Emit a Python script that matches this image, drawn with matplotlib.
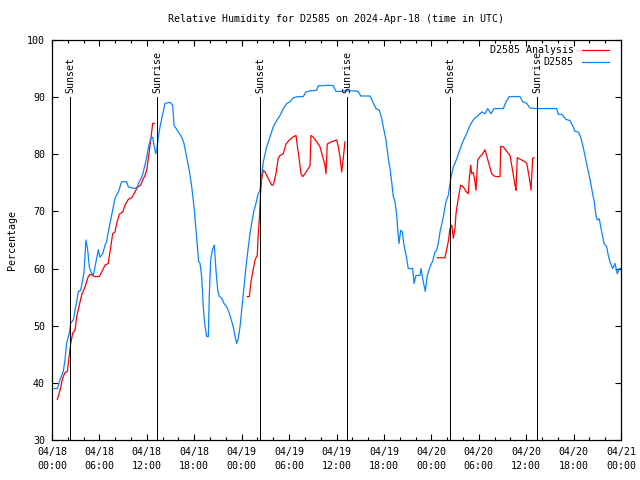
import matplotlib
matplotlib.use("Agg")
import matplotlib.pyplot as plt
import numpy as np

# ---------------- data (hours since 2024-04-18 00:00 UTC) ----------------
station_hours = [0.25, 0.67, 1.01, 1.43, 1.64, 1.86, 2.19, 2.37, 2.70, 2.91, 3.13, 3.33, 3.63, 3.88,
                 4.05, 4.30, 4.52, 4.72, 4.93, 5.23, 5.53, 5.86, 6.07, 6.42, 6.71, 6.92, 7.12, 7.34,
                 7.55, 7.76, 7.97, 8.39, 8.82, 9.45, 9.65, 10.50, 10.79, 11.05, 11.35, 11.55, 11.86,
                 12.06, 12.27, 12.49, 12.74, 12.91, 13.12, 13.25, 13.45, 13.67, 13.92, 14.30, 14.93,
                 15.27, 15.44, 15.98, 16.41, 16.70, 17.04, 17.37, 17.68, 17.97, 18.22, 18.39, 18.56,
                 18.73, 18.94, 19.14, 19.32, 19.57, 19.78, 19.90, 20.08, 20.28, 20.54, 20.75, 20.97,
                 21.17, 21.47, 21.76, 22.11, 22.43, 22.74, 22.94, 23.16, 23.37, 23.57, 23.79, 24.00,
                 24.21, 24.42, 24.64, 24.84, 25.05, 25.34, 25.56, 25.81, 26.03, 26.32, 26.53, 26.74,
                 27.17, 27.58, 28.00, 28.43, 28.85, 29.27, 29.70, 30.12, 30.53, 31.17, 31.80, 32.14,
                 32.65, 33.49, 33.70, 34.33, 34.96, 35.59, 35.94, 36.44, 37.07, 38.12, 38.76, 39.06,
                 40.24, 40.58, 41.00, 41.42, 41.72, 41.92, 42.26, 42.55, 42.77, 42.98, 43.19, 43.40,
                 43.62, 43.74, 43.91, 44.12, 44.33, 44.54, 44.88, 45.08, 45.64, 45.81, 46.06, 46.56,
                 46.69, 46.98, 47.24, 47.49, 47.83, 48.17, 48.46, 48.68, 48.88, 49.10, 49.51, 49.85,
                 50.14, 50.45, 50.78, 51.21, 51.63, 52.04, 52.47, 52.89, 53.40, 53.94, 54.37, 54.79,
                 55.13, 55.55, 55.93, 57.11, 57.45, 57.87, 59.22, 59.56, 60.07, 60.48, 61.33, 63.86,
                 64.07, 64.50, 65.04, 65.55, 65.96, 66.18, 66.60, 66.90, 67.15, 67.44, 67.73, 68.07,
                 68.37, 68.62, 68.83, 69.00, 69.25, 69.56, 69.85, 70.19, 70.39, 70.61, 70.95, 71.24,
                 71.53, 71.79, 71.97]
station_rh = [39.0, 39.0, 40.5, 42.0, 44.0, 47.0, 48.7, 50.5, 51.0, 52.7, 54.2, 56.0, 56.2, 58.0,
              59.4, 65.0, 63.2, 60.3, 59.4, 58.8, 60.9, 63.3, 62.0, 62.6, 64.1, 64.7, 66.4, 67.9,
              69.3, 70.8, 72.3, 73.4, 75.2, 75.2, 74.3, 74.0, 74.3, 75.2, 76.0, 76.9, 78.7,
              80.1, 81.6, 82.8, 83.0, 81.6, 80.1, 80.7, 83.0, 84.8, 86.5, 88.9, 89.1,
              88.6, 85.1, 83.9, 83.0, 81.9, 79.5, 77.2, 74.3, 70.8, 66.7, 63.8, 61.2,
              60.9, 58.6, 53.3, 50.4, 48.1, 48.1, 55.1, 61.5, 63.2, 64.1, 59.7, 56.2,
              55.1, 54.8, 53.9, 53.3, 52.2, 50.7, 49.8, 48.1, 46.9, 47.8, 49.8, 52.7,
              55.6, 58.6, 61.5, 63.8, 66.1, 68.5, 70.2, 71.4, 72.8, 73.7, 76.3, 78.7,
              81.3, 83.0, 84.8, 85.9, 86.8, 88.0, 88.9, 89.2, 89.9, 90.1, 90.1, 90.9,
              91.1, 91.2, 92.0, 92.0, 92.1, 92.0, 91.0, 91.0, 91.1, 91.1, 91.0, 90.2,
              90.2, 89.2, 88.0, 87.7, 86.3, 84.8, 82.5, 79.3, 77.5, 75.2, 72.6, 71.7,
              69.3, 67.0, 64.4, 66.7, 66.4, 64.1, 61.8, 60.0, 60.0, 57.4, 58.8, 58.8,
              60.0, 57.7, 56.0, 58.8, 60.3, 61.3, 62.9, 63.2, 64.4, 66.4, 69.0, 71.7,
              72.8, 75.7, 77.8, 79.2, 80.9, 82.4, 83.6, 85.1, 86.2, 86.8, 87.4, 87.1,
              88.0, 87.1, 88.0, 88.0, 89.2, 90.1, 90.1, 89.2, 88.9, 88.1, 88.0, 88.0,
              87.0, 87.0, 86.1, 85.9, 84.8, 84.0, 83.9, 83.0, 81.6, 79.8, 77.8, 75.7,
              73.4, 71.7, 69.3, 68.5, 68.7, 66.4, 64.4, 63.8, 62.3, 61.2, 60.0, 60.9,
              59.1, 60.0, 60.0]

analysis_hours = [0.67, 1.01, 1.35, 1.64, 1.94, 2.19, 2.37, 2.62, 2.91, 3.13, 3.45, 3.76, 4.18,
                  4.59, 4.81, 5.44, 5.99, 6.29, 6.71, 7.12, 7.34, 7.68, 7.97, 8.19, 8.52, 8.95,
                  9.24, 9.65, 10.08, 10.50, 10.79, 11.22, 11.48, 11.77, 11.98, 12.24, 12.49, 12.74,
                  12.94, np.nan,
                  24.71, 24.97, 25.18, 25.40, 25.69, 25.98, 26.10, 26.23, 26.41, 26.53, 26.74,
                  26.95, 27.24, 27.80, 28.00, 28.34, 28.63, 28.85, 29.27, 29.61, 30.03, 30.46,
                  30.87, 31.04, 31.29, 31.51, 31.72, 32.01, 32.43, 32.65, 32.77, 33.06, 33.49,
                  33.91, 34.25, 34.54, 34.67, 34.83, 35.39, 36.02, 36.23, 36.44, 36.66, 36.86,
                  37.07, np.nan,
                  48.75, 49.73, 50.14, 50.36, 50.58, 50.78, 50.99, 51.12, 51.41, 51.71, 52.04,
                  52.39, 52.68, 52.80, 52.98, 53.11, 53.31, 53.52, 53.65, 53.87, 54.16, 54.50,
                  54.79, 55.21, 55.64, 55.93, 56.27, 56.69, 56.78, 57.11, 57.61, 57.95, 58.17,
                  58.37, 58.59, 58.71, 58.87, 59.43, 59.85, 60.07, 60.27, 60.48, 60.61, 60.82,
                  60.99]
analysis_rh = [37.1, 38.7, 40.8, 41.8, 42.0, 44.9, 46.9, 48.7, 49.2, 51.6, 53.6, 55.4, 56.8,
               58.6, 59.0, 58.6, 58.6, 59.4, 60.6, 60.9, 62.9, 66.1, 66.4, 67.9, 69.5, 69.9,
               71.1, 72.1, 72.4, 73.4, 74.2, 74.6, 75.5, 76.3, 77.2, 79.8, 82.5, 85.4,
               85.4, np.nan,
               55.1, 55.1, 57.7, 59.4, 61.5, 62.4, 66.1, 68.5, 73.7, 75.7, 77.2,
               76.9, 76.1, 74.6, 74.6, 76.6, 79.3, 79.8, 80.1, 81.8, 82.5, 83.0,
               83.3, 81.6, 79.0, 76.6, 76.1, 76.6, 77.5, 78.0, 83.3, 83.0, 82.2,
               81.3, 79.6, 78.1, 76.6, 81.8, 82.2, 82.5, 81.3, 79.6, 76.9, 79.3,
               82.2, np.nan,
               61.9, 61.9, 64.7, 67.0, 67.6, 65.3, 67.0, 69.6, 72.3, 74.6, 74.3,
               73.5, 73.1, 75.7, 78.1, 76.6, 76.8, 75.2, 73.7, 79.0, 79.6, 80.1,
               80.8, 78.7, 76.6, 76.2, 76.1, 76.1, 81.4, 81.3, 80.4, 79.8, 78.1,
               76.4, 74.6, 73.7, 79.4, 79.0, 78.7, 78.4, 76.9, 75.2, 73.7, 79.3,
               79.4]

sun_hours = [2.28, 13.29, 26.32, 37.33, 50.36, 61.37]
sun_labels = ["Sunset", "Sunrise", "Sunset", "Sunrise", "Sunset", "Sunrise"]

xtick_hours = [0, 6, 12, 18, 24, 30, 36, 42, 48, 54, 60, 66, 72]
xtick_labels = ["04/18\n00:00", "04/18\n06:00", "04/18\n12:00", "04/18\n18:00",
                "04/19\n00:00", "04/19\n06:00", "04/19\n12:00", "04/19\n18:00",
                "04/20\n00:00", "04/20\n06:00", "04/20\n12:00", "04/20\n18:00",
                "04/21\n00:00"]
ytick_values = [30, 40, 50, 60, 70, 80, 90, 100]

series_names = ["D2585 Analysis", "D2585"]
series_colors = ["#ff0000", "#0a84ff"]

title = "Relative Humidity for D2585 on 2024-Apr-18 (time in UTC)"
ylabel = "Percentage"

# ---------------- drawing ----------------
FONT = "DejaVu Sans Mono"
FS = 7.2
LW = 0.9
plt.rcParams["font.family"] = [FONT, "DejaVu Sans"]

fig = plt.figure(figsize=(6.4, 4.8), dpi=100)
ax = fig.add_axes([52 / 640, 40 / 480, 569 / 640, 400 / 480])

ax.plot(analysis_hours, analysis_rh, color=series_colors[0], lw=LW)
ax.plot(station_hours, station_rh, color=series_colors[1], lw=LW)

for h, lab in zip(sun_hours, sun_labels):
    ax.plot([h, h], [30, 90], color="black", lw=0.72, antialiased=False)
    ax.annotate(lab, xy=(h, 90), xytext=(0.5, 3), textcoords="offset points",
                rotation=90, ha="center", va="bottom", fontsize=FS)

ax.set_xlim(0, 72)
ax.set_ylim(30, 100)
ax.set_xticks(xtick_hours)
ax.set_xticklabels(xtick_labels, fontsize=FS, linespacing=1.45)
ax.set_xticks(np.arange(0, 73, 2), minor=True)
ax.set_yticks(ytick_values)
ax.set_yticklabels([str(v) for v in ytick_values], fontsize=FS)
ax.tick_params(axis="both", which="major", direction="in", length=4, width=0.8,
               top=True, right=True, pad=5)
ax.tick_params(axis="x", which="minor", direction="in", length=2, width=0.8, top=True)
for s in ax.spines.values():
    s.set_linewidth(0.9)

# legend (top right, text right-aligned, sample to the right)
for i, (name, col) in enumerate(zip(series_names, series_colors)):
    yy = 0.975 - i * 0.0305
    ax.text(0.917, yy, name, transform=ax.transAxes, ha="right", va="center", fontsize=FS)
    ax.plot([0.931, 0.979], [yy, yy], transform=ax.transAxes, color=col, lw=LW)

fig.text(336 / 640, 1 - 19 / 480, title, ha="center", va="center", fontsize=FS)
fig.text(12 / 640, 0.5, ylabel, rotation=90, ha="center", va="center", fontsize=FS)

fig.savefig("out.png", dpi=100)
